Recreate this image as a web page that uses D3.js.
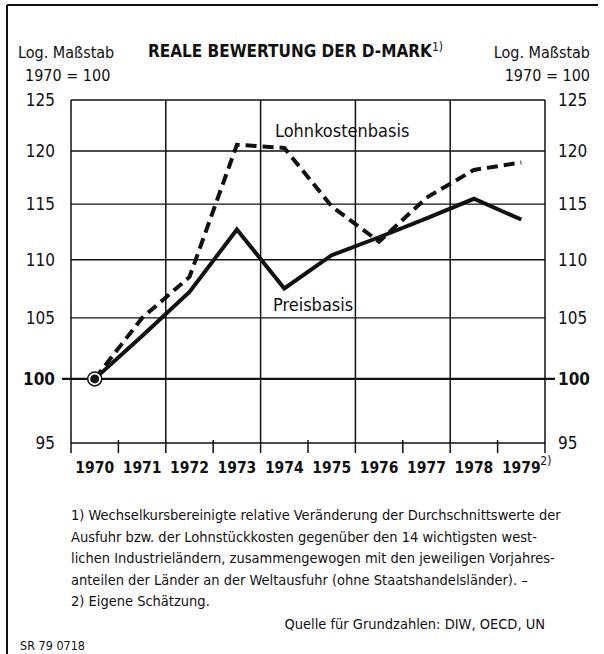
<!DOCTYPE html>
<html>
<head>
<meta charset="utf-8">
<script src="https://d3js.org/d3.v7.min.js"></script>
<style>
    body { margin: 0; background: #fff; }
    text { font-family: "Liberation Sans Narrow", "DejaVu Sans Condensed", "Liberation Sans", sans-serif; fill: #111; }
</style>
</head>
<body>
<script>
        // Chart data (1970 = 100)
        var years = [1970, 1971, 1972, 1973, 1974, 1975, 1976, 1977, 1978, 1979];
        var preisbasis = [100, 103.5, 107.2, 112.7, 107.5, 110.4, 112.0, 113.7, 115.5, 113.6];
        var lohnkostenbasis = [100, 105.0, 108.5, 120.6, 120.3, 114.8, 111.6, 115.6, 118.2, 118.9];
        var yTicks = [95, 100, 105, 110, 115, 120, 125];

        var footnotes = [
            "1) Wechselkursbereinigte relative Veränderung der Durchschnittswerte der",
            "Ausfuhr bzw. der Lohnstückkosten gegenüber den 14 wichtigsten west-",
            "lichen Industrieländern, zusammengewogen mit den jeweiligen Vorjahres-",
            "anteilen der Länder an der Weltausfuhr (ohne Staatshandelsländer). –",
            "2) Eigene Schätzung."
        ];

        var width = 604;
        var height = 654;

        // plot area (note: "top" is taken by window.top, so prefix everything)
        var plotLeft = 71, plotRight = 545, plotTop = 100, plotBottom = 443;

        var svg = d3.select("body")
                    .append("svg")
                    .attr("width", width)
                    .attr("height", height);

        // years sit in the middle of each column
        var x = d3.scaleLinear().domain([1969.5, 1979.5]).range([plotLeft, plotRight]);
        // log scale like the original
        var y = d3.scaleLog().domain([95, 125]).range([plotBottom, plotTop]);

        // page frame (top and left only)
        svg.append("line").attr("x1", 7).attr("x2", 598).attr("y1", 5).attr("y2", 5)
            .attr("stroke", "#111").attr("stroke-width", 2);
        svg.append("line").attr("x1", 7).attr("x2", 7).attr("y1", 5).attr("y2", height)
            .attr("stroke", "#111").attr("stroke-width", 2);

        // horizontal grid
        svg.selectAll(".hgrid")
            .data(yTicks)
            .enter()
            .append("line")
            .attr("class", "hgrid")
            .attr("x1", function(d) { return d == 100 ? plotLeft - 9 : plotLeft; })
            .attr("x2", function(d) { return d == 100 ? plotRight + 10 : plotRight; })
            .attr("y1", function(d) { return y(d); })
            .attr("y2", function(d) { return y(d); })
            .attr("stroke", "#111")
            .attr("stroke-width", function(d) { return d == 100 ? 2.2 : 1.3; });

        // vertical grid every two years, small ticks at every column edge
        var edges = d3.range(1969.5, 1980, 1);
        svg.selectAll(".vgrid")
            .data(edges)
            .enter()
            .append("line")
            .attr("class", "vgrid")
            .attr("x1", function(d) { return x(d); })
            .attr("x2", function(d) { return x(d); })
            .attr("y1", function(d, i) { return i % 2 == 0 ? plotTop : plotBottom - 3; })
            .attr("y2", plotBottom + 10)
            .attr("stroke", "#111")
            .attr("stroke-width", 1.5);

        // y labels on both sides
        svg.selectAll(".ylabL")
            .data(yTicks)
            .enter()
            .append("text")
            .attr("x", 55)
            .attr("y", function(d) { return y(d) + 6; })
            .attr("text-anchor", "end")
            .style("font-size", "17px")
            .style("font-weight", function(d) { return d == 100 ? "bold" : "normal"; })
            .text(function(d) { return d; });

        svg.selectAll(".ylabR")
            .data(yTicks)
            .enter()
            .append("text")
            .attr("x", 558)
            .attr("y", function(d) { return y(d) + 6; })
            .attr("text-anchor", "start")
            .style("font-size", "17px")
            .style("font-weight", function(d) { return d == 100 ? "bold" : "normal"; })
            .text(function(d) { return d; });

        // year labels
        svg.selectAll(".xlab")
            .data(years)
            .enter()
            .append("text")
            .attr("x", function(d) { return x(d); })
            .attr("y", 473)
            .attr("text-anchor", "middle")
            .style("font-size", "15.5px")
            .style("font-weight", "bold")
            .text(function(d) { return d; });
        svg.append("text")
            .attr("x", x(1979) + 19)
            .attr("y", 465)
            .style("font-size", "12px")
            .text("2)");

        // the two series
        var line = d3.line()
            .x(function(d, i) { return x(years[i]); })
            .y(function(d) { return y(d); });

        svg.append("path")
            .attr("d", line(lohnkostenbasis))
            .attr("fill", "none")
            .attr("stroke", "#111")
            .attr("stroke-width", 4)
            .attr("stroke-dasharray", "11,6");

        svg.append("path")
            .attr("d", line(preisbasis))
            .attr("fill", "none")
            .attr("stroke", "#111")
            .attr("stroke-width", 4)
            .attr("stroke-linejoin", "miter");

        // base point 1970 = 100
        svg.append("circle")
            .attr("cx", x(years[0])).attr("cy", y(preisbasis[0]))
            .attr("r", 7).attr("fill", "#fff").attr("stroke", "#111").attr("stroke-width", 1.5);
        svg.append("circle")
            .attr("cx", x(years[0])).attr("cy", y(preisbasis[0]))
            .attr("r", 4.5).attr("fill", "#111");

        // series labels
        svg.append("text").attr("x", 275).attr("y", 137)
            .style("font-size", "18px").text("Lohnkostenbasis");
        svg.append("text").attr("x", 273).attr("y", 311)
            .style("font-size", "18px").text("Preisbasis");

        // headers
        var title = svg.append("text").attr("x", 148).attr("y", 57)
            .style("font-size", "17px").style("font-weight", "bold");
        title.append("tspan").text("REALE BEWERTUNG DER D-MARK");
        title.append("tspan").attr("dy", -6).style("font-size", "12px").style("font-weight", "normal").text("1)");

        svg.append("text").attr("x", 18).attr("y", 58).style("font-size", "16px").text("Log. Maßstab");
        svg.append("text").attr("x", 25).attr("y", 81).style("font-size", "16px").text("1970 = 100");
        svg.append("text").attr("x", 590).attr("y", 58).attr("text-anchor", "end").style("font-size", "16px").text("Log. Maßstab");
        svg.append("text").attr("x", 590).attr("y", 81).attr("text-anchor", "end").style("font-size", "16px").text("1970 = 100");

        // footnotes
        svg.selectAll(".foot")
            .data(footnotes)
            .enter()
            .append("text")
            .attr("x", 71)
            .attr("y", function(d, i) { return 520 + i * 21.6; })
            .style("font-size", "14.5px")
            .text(function(d) { return d; });

        svg.append("text").attr("x", 545).attr("y", 629).attr("text-anchor", "end")
            .style("font-size", "14.5px").text("Quelle für Grundzahlen: DIW, OECD, UN");
        svg.append("text").attr("x", 20).attr("y", 650)
            .style("font-size", "12.5px").text("SR 79 0718");
</script>
</body>
</html>
